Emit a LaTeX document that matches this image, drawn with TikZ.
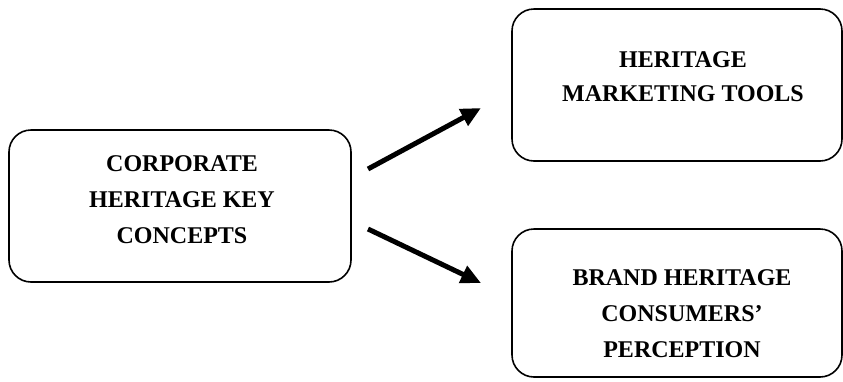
\documentclass[tikz,border=0pt]{standalone}
\usepackage{fontspec}
\setmainfont{Liberation Serif}
\usetikzlibrary{arrows.meta}
\begin{document}
\begin{tikzpicture}[x=1pt,y=-1pt,
  conceptbox/.style={draw=black, line width=1.6pt, rounded corners=22pt, inner sep=0pt},
  boxlabel/.style={align=center, font=\bfseries\fontsize{24}{36}\selectfont, inner sep=0pt},
  flow/.style={line width=5pt, -{Triangle[length=20pt,width=18pt]}}]
  \useasboundingbox (0,0) rectangle (843,381);

  % boxes
  \node[conceptbox, minimum width=342pt, minimum height=152pt] (core) at (180,206) {};
  \node[conceptbox, minimum width=330pt, minimum height=152pt] (tools) at (677,85) {};
  \node[conceptbox, minimum width=330pt, minimum height=148pt] (perc) at (677,303) {};

  % labels
  \node[boxlabel] (coretext) at (182,200) {CORPORATE\\HERITAGE KEY\\CONCEPTS};
  \node[boxlabel, font=\bfseries\fontsize{24}{34}\selectfont] (toolstext) at (683,77) {HERITAGE\\MARKETING TOOLS};
  \node[boxlabel] (perctext) at (682,314) {BRAND HERITAGE\\CONSUMERS’\\PERCEPTION};

  % arrow end points
  \coordinate (upstart) at (368,169);
  \coordinate (uptip) at (481,108);
  \coordinate (downstart) at (368,229);
  \coordinate (downtip) at (481,283);

  \draw[flow] (upstart) -- (uptip);
  \draw[flow] (downstart) -- (downtip);
\end{tikzpicture}
\end{document}
